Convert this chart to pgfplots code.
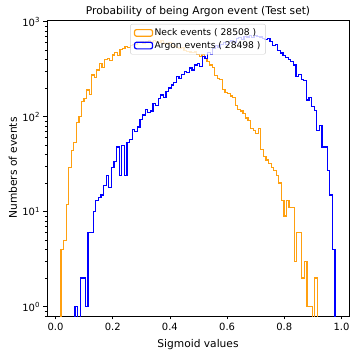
\documentclass[border=0pt]{standalone}
\usepackage{pgfplots}
\pgfplotsset{compat=1.18}
\usepackage{fontspec}
\setmainfont{DejaVu Sans}
\definecolor{neck}{HTML}{FFA010}
\definecolor{argon}{HTML}{0000FF}
\definecolor{legframe}{HTML}{CCCCCC}
\newcommand\pw[1]{10\textsuperscript{#1}}
\begin{document}
\begin{tikzpicture}
\begin{axis}[
  scale only axis, width=302bp, height=296bp,
  ymode=log,
  xmin=-0.0297, xmax=1.0262, ymin=0.798, ymax=1042,
  axis line style={line width=0.8bp},
  xtick={0,0.2,0.4,0.6,0.8,1}, xticklabels={0.0,0.2,0.4,0.6,0.8,1.0},
  ytick={1,10,100,1000}, yticklabels={\pw{0},\pw{1},\pw{2},\pw{3}},
  minor ytick={0.8,0.9,2,3,4,5,6,7,8,9,20,30,40,50,60,70,80,90,200,300,400,500,600,700,800,900},
  tick align=outside, xtick pos=bottom, ytick pos=left,
  major tick length=3.5bp, minor tick length=2bp,
  every tick/.style={black, line width=0.8bp},
  every minor tick/.style={black, line width=0.6bp},
  tick label style={font=\fontsize{10}{12}\selectfont},
  every axis title shift=0pt,
  title={Probability of being Argon event (Test set)},
  title style={at={(axis description cs:0.5,1.0)}, anchor=south, yshift=-0.5bp, font=\fontsize{10.7}{12}\selectfont},
  xlabel={Sigmoid values},
  xlabel style={at={(axis description cs:0.5,-0.098)}, anchor=center, font=\fontsize{10.7}{12}\selectfont},
  ylabel={Numbers of events},
  ylabel style={at={(axis description cs:-0.113,0.5)}, anchor=center, rotate=0, font=\fontsize{10.7}{12}\selectfont},
  legend style={at={(axis description cs:0.5,0.9865)}, anchor=north, draw=legframe, rounded corners=2bp,
    fill=white, fill opacity=0.8, text opacity=1, font=\fontsize{9.2}{10}\selectfont,
    inner xsep=3.5bp, inner ysep=3bp, row sep=1.2bp, nodes={inner sep=1.5bp}},
  legend cell align=left,
]
\addplot[const plot, draw=neck, line width=1.2bp,
  legend image code/.code={\draw[neck, line width=1.2bp] (0bp,-3.3bp) rectangle (18bp,3.3bp);}]
coordinates {
(0.0192,0.01)
(0.0192,4) (0.0282,5) (0.0371,12) (0.0461,29) (0.0550,44) (0.0640,54) (0.0730,87) (0.0819,100) (0.0909,144) (0.0998,155)
(0.1088,191) (0.1178,170) (0.1267,275) (0.1357,260) (0.1446,310) (0.1536,360) (0.1626,330) (0.1715,400) (0.1805,410) (0.1894,390)
(0.1984,446) (0.2074,470) (0.2163,440) (0.2253,505) (0.2342,520) (0.2432,550) (0.2522,540) (0.2611,560) (0.2701,580) (0.2790,570)
(0.2880,600) (0.2970,610) (0.3059,590) (0.3149,620) (0.3238,630) (0.3328,610) (0.3418,640) (0.3507,620) (0.3597,600) (0.3686,630)
(0.3776,590) (0.3866,580) (0.3955,600) (0.4045,560) (0.4134,550) (0.4224,540) (0.4314,520) (0.4403,530) (0.4493,500) (0.4582,490)
(0.4672,480) (0.4762,470) (0.4851,480) (0.4941,450) (0.5030,430) (0.5120,450) (0.5210,410) (0.5299,380) (0.5389,350) (0.5478,330)
(0.5568,270) (0.5658,250) (0.5747,245) (0.5837,195) (0.5926,180) (0.6016,175) (0.6106,165) (0.6195,158) (0.6285,130) (0.6374,118)
(0.6464,115) (0.6554,108) (0.6643,97) (0.6733,92) (0.6822,75) (0.6912,72) (0.7002,66) (0.7091,75) (0.7181,45) (0.7270,38)
(0.7360,35) (0.7450,32) (0.7539,29) (0.7629,27) (0.7718,24) (0.7808,20) (0.7898,13) (0.7987,9) (0.8077,13) (0.8166,11)
(0.8256,11) (0.8346,3) (0.8435,6) (0.8525,6) (0.8614,2) (0.8704,3) (0.8794,1) (0.8883,1) (0.8973,0.01) (0.9062,2)
(0.9152,0.01)
};
\addlegendentry{Neck events ( 28508 )}
\addplot[const plot, draw=argon, line width=1.2bp,
  legend image code/.code={\draw[argon, line width=1.2bp] (0bp,-3.3bp) rectangle (18bp,3.3bp);}]
coordinates {
(0.0682,0.01)
(0.0682,1) (0.0773,0.01) (0.0864,2) (0.0955,2) (0.1046,1) (0.1137,6) (0.1227,6) (0.1318,10) (0.1409,13) (0.1500,14)
(0.1591,15) (0.1682,19) (0.1773,24) (0.1864,18) (0.1955,29) (0.2046,34) (0.2136,48) (0.2227,24) (0.2318,50) (0.2409,24)
(0.2500,53) (0.2591,57) (0.2682,73) (0.2773,70) (0.2864,78) (0.2955,93) (0.3045,104) (0.3136,118) (0.3227,110) (0.3318,115)
(0.3409,139) (0.3500,130) (0.3591,155) (0.3682,169) (0.3773,160) (0.3864,183) (0.3954,200) (0.4045,216) (0.4136,230) (0.4227,264)
(0.4318,250) (0.4409,280) (0.4500,297) (0.4591,290) (0.4682,325) (0.4773,310) (0.4863,350) (0.4954,364) (0.5045,340) (0.5136,427)
(0.5227,410) (0.5318,470) (0.5409,450) (0.5500,520) (0.5591,560) (0.5682,540) (0.5772,580) (0.5863,600) (0.5954,570) (0.6045,620)
(0.6136,640) (0.6227,610) (0.6318,660) (0.6409,680) (0.6500,650) (0.6591,700) (0.6681,690) (0.6772,710) (0.6863,680) (0.6954,720)
(0.7045,700) (0.7136,690) (0.7227,670) (0.7318,650) (0.7409,660) (0.7500,617) (0.7590,560) (0.7681,580) (0.7772,502) (0.7863,468)
(0.7954,440) (0.8045,417) (0.8136,400) (0.8227,380) (0.8318,350) (0.8409,263) (0.8499,280) (0.8590,244) (0.8681,240) (0.8772,150)
(0.8863,160) (0.8954,127) (0.9045,117) (0.9136,72) (0.9227,80) (0.9318,48) (0.9408,48) (0.9499,27) (0.9590,15) (0.9681,4)
(0.9772,0.01)
};
\addlegendentry{Argon events ( 28498 )}
\end{axis}
\pgfresetboundingbox
\path[use as bounding box] ([xshift=-47bp,yshift=-36bp]current axis.south west) rectangle ([xshift=4bp,yshift=20bp]current axis.north east);
\end{tikzpicture}
\end{document}
